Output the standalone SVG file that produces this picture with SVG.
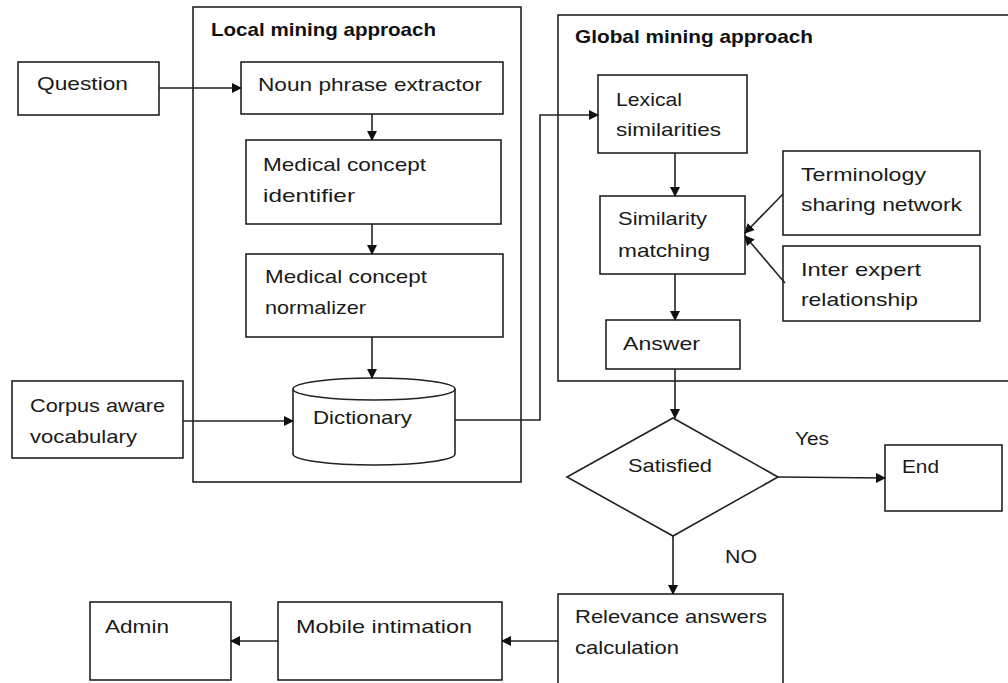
<svg xmlns="http://www.w3.org/2000/svg" width="1008" height="683" viewBox="0 0 1008 683">
<defs>
<marker id="ah" markerWidth="10" markerHeight="10" refX="9" refY="5" orient="auto" markerUnits="userSpaceOnUse">
<path d="M0,0 L10,5 L0,10 Z" fill="#111"/>
</marker>
<style>
.b{fill:#fff;stroke:#222;stroke-width:1.6}
.c{fill:none;stroke:#222;stroke-width:1.6}
.t{font-family:"Liberation Sans",Arial,sans-serif;font-size:19px;fill:#1a1a1a}
.h{font-family:"Liberation Sans",Arial,sans-serif;font-size:19px;font-weight:bold;fill:#111}
.n{font-family:"Liberation Sans Narrow","Liberation Sans",Arial,sans-serif;font-size:19px;fill:#1a1a1a}
.l{fill:none;stroke:#222;stroke-width:1.6;marker-end:url(#ah)}
</style>
</defs>
<rect width="1008" height="683" fill="#fff"/>

<g id="local">
<rect class="c" x="193" y="7" width="328" height="475"/>
<text class="h" x="211" y="36" textLength="225" lengthAdjust="spacingAndGlyphs">Local mining approach</text>
</g>
<g id="global">
<rect class="c" x="558" y="15" width="460" height="366"/>
<text class="h" x="575" y="43" textLength="238" lengthAdjust="spacingAndGlyphs">Global mining approach</text>
</g>

<g id="question">
<rect class="b" x="18" y="62" width="141" height="53"/>
<text class="t" x="37" y="90" textLength="91" lengthAdjust="spacingAndGlyphs">Question</text>
</g>
<g id="noun">
<rect class="b" x="241" y="62" width="262" height="52"/>
<text class="t" x="258" y="91" textLength="224" lengthAdjust="spacingAndGlyphs">Noun phrase extractor</text>
</g>
<g id="identifier">
<rect class="b" x="246" y="140" width="255" height="84"/>
<text class="t" x="263" y="171" textLength="163" lengthAdjust="spacingAndGlyphs">Medical concept</text>
<text class="t" x="263" y="202" textLength="92" lengthAdjust="spacingAndGlyphs">identifier</text>
</g>
<g id="normalizer">
<rect class="b" x="246" y="254" width="257" height="83"/>
<text class="t" x="265" y="283" textLength="162" lengthAdjust="spacingAndGlyphs">Medical concept</text>
<text class="t" x="265" y="314" textLength="101" lengthAdjust="spacingAndGlyphs">normalizer</text>
</g>
<g id="dictionary">
<path class="b" d="M293,389 A81,11 0 0 1 455,389 L455,454 A81,11 0 0 1 293,454 Z"/>
<path class="c" d="M293,389 A81,11 0 0 0 455,389"/>
<text class="t" x="313" y="424" textLength="99" lengthAdjust="spacingAndGlyphs">Dictionary</text>
</g>
<g id="corpus">
<rect class="b" x="12" y="381" width="171" height="77"/>
<text class="t" x="30" y="412" textLength="135" lengthAdjust="spacingAndGlyphs">Corpus aware</text>
<text class="t" x="30" y="443" textLength="107" lengthAdjust="spacingAndGlyphs">vocabulary</text>
</g>
<g id="lexical">
<rect class="b" x="598" y="75" width="149" height="78"/>
<text class="t" x="616" y="106" textLength="66" lengthAdjust="spacingAndGlyphs">Lexical</text>
<text class="t" x="616" y="136" textLength="105" lengthAdjust="spacingAndGlyphs">similarities</text>
</g>
<g id="similarity">
<rect class="b" x="600" y="196" width="145" height="78"/>
<text class="t" x="618" y="225" textLength="89" lengthAdjust="spacingAndGlyphs">Similarity</text>
<text class="t" x="618" y="257" textLength="92" lengthAdjust="spacingAndGlyphs">matching</text>
</g>
<g id="terminology">
<rect class="b" x="783" y="151" width="197" height="84"/>
<text class="t" x="801" y="181" textLength="125" lengthAdjust="spacingAndGlyphs">Terminology</text>
<text class="t" x="801" y="211" textLength="161" lengthAdjust="spacingAndGlyphs">sharing network</text>
</g>
<g id="interexpert">
<rect class="b" x="783" y="246" width="197" height="75"/>
<text class="t" x="801" y="276" textLength="120" lengthAdjust="spacingAndGlyphs">Inter expert</text>
<text class="t" x="801" y="306" textLength="117" lengthAdjust="spacingAndGlyphs">relationship</text>
</g>
<g id="answer">
<rect class="b" x="606" y="320" width="134" height="49"/>
<text class="t" x="623" y="350" textLength="77" lengthAdjust="spacingAndGlyphs">Answer</text>
</g>
<g id="satisfied">
<path class="b" d="M673,418 L778,477 L673,536 L567,477 Z"/>
<text class="t" x="628" y="472" textLength="84" lengthAdjust="spacingAndGlyphs">Satisfied</text>
</g>
<g id="end">
<rect class="b" x="885" y="445" width="117" height="66"/>
<text class="t" x="902" y="473" textLength="37" lengthAdjust="spacingAndGlyphs">End</text>
</g>
<g id="relevance">
<rect class="b" x="558" y="594" width="225" height="95"/>
<text class="n" x="575" y="623" textLength="192" lengthAdjust="spacingAndGlyphs">Relevance answers</text>
<text class="n" x="575" y="654" textLength="104" lengthAdjust="spacingAndGlyphs">calculation</text>
</g>
<g id="mobile">
<rect class="b" x="278" y="602" width="224" height="78"/>
<text class="n" x="296" y="633" textLength="176" lengthAdjust="spacingAndGlyphs">Mobile intimation</text>
</g>
<g id="admin">
<rect class="b" x="90" y="602" width="141" height="78"/>
<text class="n" x="105" y="633" textLength="64" lengthAdjust="spacingAndGlyphs">Admin</text>
</g>

<g id="connectors">
<path class="l" d="M159,88 L241,88"/>
<path class="l" d="M372,114 L372,140"/>
<path class="l" d="M372,224 L372,254"/>
<path class="l" d="M372,337 L372,378"/>
<path class="l" d="M183,421 L293,421"/>
<path class="l" d="M455,420 L540,420 L540,115 L598,115"/>
<path class="l" d="M675,153 L675,196"/>
<path class="l" d="M783,194 L745,233"/>
<path class="l" d="M785,283 L745,236"/>
<path class="l" d="M675,274 L675,320"/>
<path class="l" d="M675,369 L675,418"/>
<path class="l" d="M778,477 L885,478"/>
<path class="l" d="M673,536 L673,594"/>
<path class="l" d="M558,641 L502,641"/>
<path class="l" d="M278,641 L231,641"/>
<text class="t" x="795" y="445" textLength="34" lengthAdjust="spacingAndGlyphs">Yes</text>
<text class="n" x="725" y="563" textLength="32" lengthAdjust="spacingAndGlyphs">NO</text>
</g>
</svg>
